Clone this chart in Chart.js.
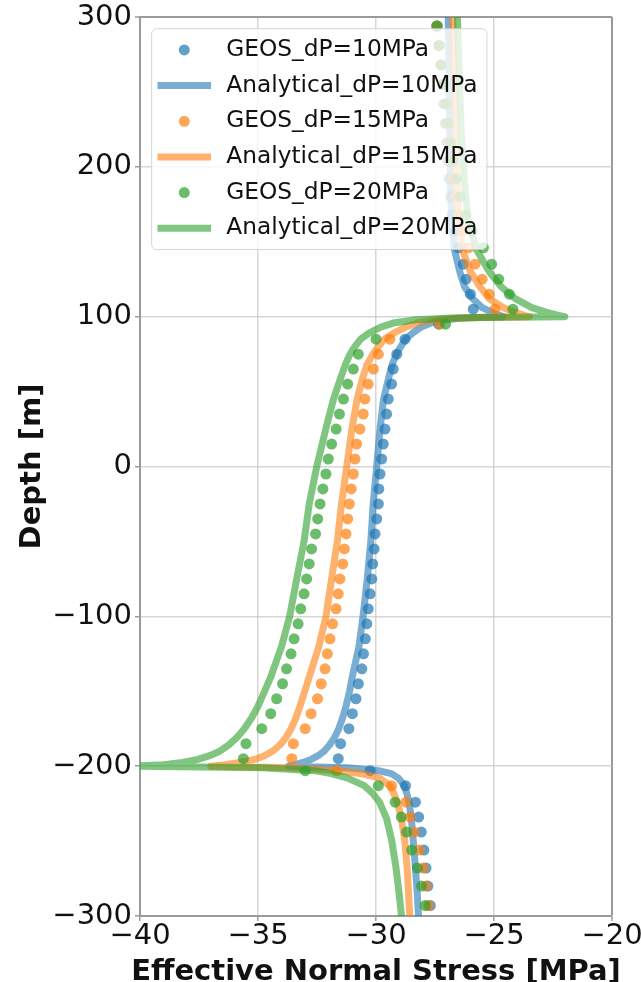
<!DOCTYPE html>
<html>
<head>
<meta charset="utf-8">
<script src="https://cdn.jsdelivr.net/npm/chart.js@4.4.1/dist/chart.umd.min.js"></script>
<style>
  html, body { margin: 0; padding: 0; background: #ffffff; }
  #wrap { width: 641px; height: 982px; }
</style>
</head>
<body>
<div id="wrap"><canvas id="stressChart" width="641" height="982"></canvas></div>
<script>
// ---- Series labels, axis titles and axis ticks ----
const seriesLabels = [
  'GEOS_dP=10MPa', 'Analytical_dP=10MPa',
  'GEOS_dP=15MPa', 'Analytical_dP=15MPa',
  'GEOS_dP=20MPa', 'Analytical_dP=20MPa'
];
const xTitle = 'Effective Normal Stress [MPa]';
const yTitle = 'Depth [m]';
const xTicks = [-40, -35, -30, -25, -20];
const yTicks = [-300, -200, -100, 0, 100, 200, 300];

// ---- GEOS cell-centre results: depth [m] and effective normal stress [MPa] ----
const geosDepth = [
  294, 281, 268, 255, 242, 229, 216, 204, 192, 180, 168, 157, 146, 135, 125, 115, 105,
  95, 85, 75, 65, 55, 45, 35, 25, 15, 5, -5, -15, -25, -35, -45, -55, -65, -75, -85,
  -95, -105, -115, -125, -135, -145, -155, -165, -175, -185, -195,
  -203, -213, -224, -234, -244, -256, -268, -280, -293
];
const geos10 = [
  -27.40, -27.32, -27.25, -27.18, -27.12, -27.06, -27.00, -26.95, -26.90, -26.84, -26.77, -26.67, -26.50, -26.30, -26.18, -26.00, -25.88,
  -27.35, -28.77, -29.12, -29.27, -29.34, -29.48, -29.55, -29.62, -29.69, -29.76, -29.83, -29.88, -29.90, -29.97, -30.04, -30.08, -30.14, -30.18, -30.25,
  -30.33, -30.39, -30.45, -30.53, -30.60, -30.75, -30.85, -31.00, -31.15, -31.50, -31.60,
  -30.25, -28.75, -28.33, -28.19, -28.08, -27.97, -27.88, -27.80, -27.70
];
const geos15 = [
  -27.42, -27.33, -27.24, -27.16, -27.08, -27.00, -26.92, -26.84, -26.75, -26.64, -26.50, -26.33, -26.08, -25.80, -25.50, -25.20, -24.96,
  -27.30, -29.41, -29.90, -30.11, -30.33, -30.47, -30.54, -30.68, -30.82, -30.89, -30.96, -31.05, -31.13, -31.20, -31.27, -31.34, -31.41, -31.53, -31.60,
  -31.69, -31.84, -31.95, -32.06, -32.16, -32.32, -32.48, -32.75, -33.00, -33.50, -33.57,
  -31.67, -29.34, -28.73, -28.56, -28.39, -28.17, -28.00, -27.88, -27.78
];
const geos20 = [
  -27.43, -27.33, -27.24, -27.14, -27.04, -26.94, -26.83, -26.72, -26.58, -26.42, -26.20, -25.92, -25.45, -25.10, -24.80, -24.35, -24.20,
  -27.05, -30.00, -30.75, -30.96, -31.20, -31.38, -31.55, -31.69, -31.88, -32.02, -32.12, -32.25, -32.37, -32.47, -32.56, -32.73, -32.83, -32.94, -33.05,
  -33.19, -33.30, -33.47, -33.60, -33.79, -33.96, -34.21, -34.46, -34.84, -35.51, -35.62,
  -33.00, -29.90, -29.19, -28.93, -28.70, -28.49, -28.25, -28.07, -27.92
];

// ---- Analytical profiles: depth [m] and effective normal stress [MPa] ----
const analyticDepth = [
  300, 260, 220, 190, 165, 145, 130, 120, 112, 106,
  103, 101, 100, 99.5, 99, 98, 96, 93, 89, 85,
  80, 75, 68, 60, 45, 25, 0, -25, -50, -75,
  -100, -120, -140, -150, -160, -168, -175, -181, -186, -190,
  -193, -195.5, -197.5, -199, -200, -201, -203, -205, -208, -213,
  -218, -224, -235, -250, -268, -285, -300
];
const analytic10 = [
  -26.94, -26.90, -26.87, -26.84, -26.80, -26.68, -26.45, -26.25, -25.90, -25.50,
  -25.10, -24.80, -24.60, -25.80, -26.50, -27.00, -27.65, -28.10, -28.45, -28.75,
  -28.95, -29.13, -29.32, -29.45, -29.68, -29.83, -29.97, -30.12, -30.22, -30.37,
  -30.55, -30.72, -31.00, -31.12, -31.27, -31.42, -31.58, -31.76, -31.98, -32.20,
  -32.45, -32.75, -33.10, -33.40, -33.70, -31.20, -29.90, -29.35, -29.05, -28.80,
  -28.70, -28.60, -28.50, -28.42, -28.33, -28.25, -28.20
];
const analytic15 = [
  -26.75, -26.70, -26.65, -26.58, -26.48, -26.35, -26.00, -25.60, -25.20, -24.60,
  -24.15, -23.75, -23.50, -25.50, -26.80, -27.50, -28.20, -28.75, -29.25, -29.65,
  -29.90, -30.13, -30.38, -30.55, -30.80, -31.02, -31.24, -31.46, -31.64, -31.88,
  -32.12, -32.42, -32.82, -33.02, -33.22, -33.40, -33.60, -33.82, -34.08, -34.38,
  -34.72, -35.15, -35.75, -36.40, -37.00, -33.60, -31.60, -30.60, -29.85, -29.42,
  -29.25, -29.10, -28.92, -28.78, -28.68, -28.62, -28.57
];
const analytic20 = [
  -26.55, -26.47, -26.38, -26.25, -26.10, -25.75, -25.20, -24.70, -24.10, -23.40,
  -22.80, -22.30, -22.00, -25.50, -27.00, -28.30, -29.20, -29.80, -30.30, -30.65,
  -30.90, -31.10, -31.30, -31.48, -31.80, -32.13, -32.51, -32.83, -33.05, -33.36,
  -33.66, -34.00, -34.45, -34.72, -35.00, -35.28, -35.58, -35.90, -36.25, -36.62,
  -37.05, -37.55, -38.20, -39.00, -40.30, -34.80, -32.60, -31.90, -31.20, -30.50,
  -30.15, -29.85, -29.55, -29.33, -29.15, -29.02, -28.92
];

// ---- Styling ----
const FONT = '"DejaVu Sans"';
const palette = ['31,119,180', '255,127,14', '44,160,44'];
const spineColor = '#9a9a9a';
const gridColor = 'rgba(200,200,200,0.75)';
const textColor = '#111111';

const toPoints = (depths, values) => values.map((v, i) => ({ x: v, y: depths[i] }));
const minusSign = v => String(v).replace('-', '\u2212');

const geosSets = [geos10, geos15, geos20];
const analyticSets = [analytic10, analytic15, analytic20];

const datasets = [];
palette.forEach((rgb, k) => {
  datasets.push({
    label: seriesLabels[2 * k],
    data: toPoints(geosDepth, geosSets[k]),
    showLine: false,
    pointRadius: 5.5,
    pointHoverRadius: 5.5,
    pointBorderWidth: 0,
    backgroundColor: `rgba(${rgb},0.7)`,
    borderColor: `rgba(${rgb},0.7)`
  });
  datasets.push({
    label: seriesLabels[2 * k + 1],
    data: toPoints(analyticDepth, analyticSets[k]),
    showLine: true,
    pointRadius: 0,
    pointHoverRadius: 0,
    borderWidth: 7,
    borderColor: `rgba(${rgb},0.6)`,
    backgroundColor: `rgba(${rgb},0.6)`,
    borderJoinStyle: 'round',
    borderCapStyle: 'square',
    tension: 0,
    clip: 0
  });
});
// later series are painted on top of earlier ones
datasets.forEach((d, i) => { d.order = datasets.length - i; });

// Bottom axis title, centred under the plotting area at its natural width
const bottomTitle = {
  id: 'bottomTitle',
  afterDraw(chart) {
    const { ctx, chartArea } = chart;
    ctx.save();
    ctx.font = `bold 29px ${FONT}`;
    ctx.fillStyle = textColor;
    ctx.textAlign = 'center';
    ctx.textBaseline = 'alphabetic';
    ctx.fillText(xTitle, (chartArea.left + chartArea.right) / 2, chartArea.bottom + 64);
    ctx.restore();
  }
};

// Framed legend drawn inside the upper-left corner of the plotting area
const boxLegend = {
  id: 'boxLegend',
  afterDraw(chart) {
    const { ctx, chartArea } = chart;
    const fs = 23.3;
    const pad = 0.4 * fs, handleLen = 2.0 * fs, textPad = 0.8 * fs;
    const spacing = 0.5 * fs, edgeGap = 0.5 * fs, rowH = 24;
    const items = chart.data.datasets;
    ctx.save();
    ctx.font = `${fs}px ${FONT}`;
    const textW = Math.max(...items.map(d => ctx.measureText(d.label).width));
    const x0 = chartArea.left + edgeGap;
    const y0 = chartArea.top + edgeGap;
    const w = pad * 2 + handleLen + textPad + textW;
    const h = pad * 2 + items.length * rowH + (items.length - 1) * spacing;
    ctx.beginPath();
    ctx.roundRect(x0, y0, w, h, 5);
    ctx.fillStyle = 'rgba(255,255,255,0.8)';
    ctx.fill();
    ctx.strokeStyle = 'rgba(204,204,204,0.8)';
    ctx.lineWidth = 1;
    ctx.stroke();
    items.forEach((d, i) => {
      const cy = y0 + pad + i * (rowH + spacing) + rowH / 2;
      const hx = x0 + pad;
      if (d.showLine) {
        ctx.beginPath();
        ctx.moveTo(hx, cy);
        ctx.lineTo(hx + handleLen, cy);
        ctx.strokeStyle = d.borderColor;
        ctx.lineWidth = d.borderWidth;
        ctx.lineCap = 'square';
        ctx.stroke();
      } else {
        ctx.beginPath();
        ctx.arc(hx + handleLen / 2, cy, d.pointRadius, 0, Math.PI * 2);
        ctx.fillStyle = d.backgroundColor;
        ctx.fill();
      }
      ctx.fillStyle = textColor;
      ctx.textAlign = 'left';
      ctx.textBaseline = 'middle';
      ctx.fillText(d.label, hx + handleLen + textPad, cy);
    });
    ctx.restore();
  }
};

new Chart(document.getElementById('stressChart'), {
  type: 'scatter',
  data: { datasets },
  plugins: [boxLegend, bottomTitle],
  options: {
    responsive: false,
    animation: false,
    events: [],
    layout: { autoPadding: false, padding: { top: 17, right: 29, bottom: 0, left: 0 } },
    plugins: { legend: { display: false }, tooltip: { enabled: false } },
    scales: {
      x: {
        type: 'linear',
        min: -40,
        max: -20,
        afterBuildTicks: s => { s.ticks = xTicks.map(v => ({ value: v })); },
        afterFit: s => { s.height = 66; s.paddingLeft = 0; s.paddingRight = 0; },
        ticks: {
          callback: minusSign,
          color: textColor,
          padding: 1,
          maxRotation: 0,
          font: { family: FONT, size: 29, lineHeight: 1 }
        },
        grid: {
          color: c => (c.tick && c.tick.value === -20) ? spineColor : gridColor,
          lineWidth: c => (c.tick && c.tick.value === -20) ? 2 : 1.5,
          tickColor: spineColor,
          tickLength: 5,
          tickWidth: 1.5
        },
        border: { display: true, color: spineColor, width: 2 },
        title: { display: false }
      },
      y: {
        type: 'linear',
        min: -300,
        max: 300,
        afterBuildTicks: s => { s.ticks = yTicks.map(v => ({ value: v })); },
        afterFit: s => { s.width = 140; s.paddingTop = 0; s.paddingBottom = 0; },
        ticks: {
          callback: minusSign,
          color: textColor,
          padding: 3,
          font: { family: FONT, size: 29 }
        },
        grid: {
          color: c => (c.tick && c.tick.value === 300) ? spineColor : gridColor,
          lineWidth: c => (c.tick && c.tick.value === 300) ? 2 : 1.5,
          tickColor: spineColor,
          tickLength: 5,
          tickWidth: 1.5
        },
        border: { display: true, color: spineColor, width: 2 },
        title: {
          display: true,
          text: yTitle,
          color: textColor,
          font: { family: FONT, size: 29, weight: 'bold', lineHeight: 1.2 },
          padding: { top: 14.6, bottom: 0 }
        }
      }
    }
  }
});
</script>
</body>
</html>
